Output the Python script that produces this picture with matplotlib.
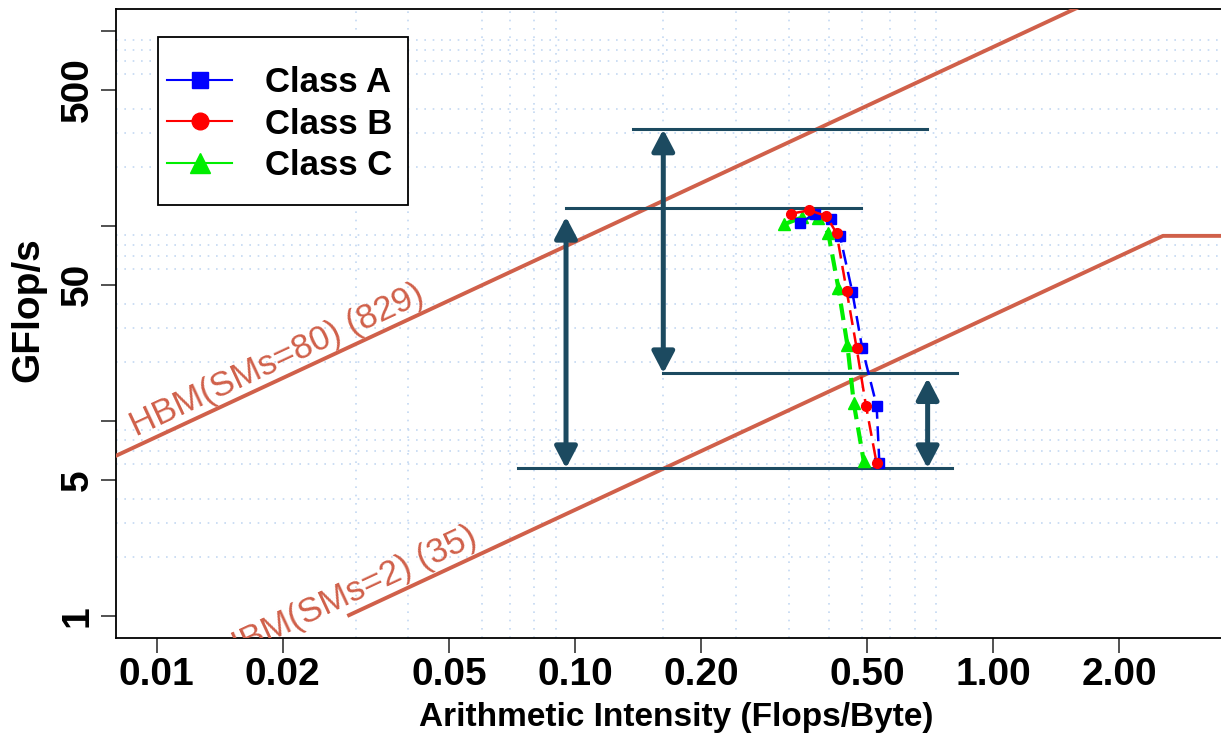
import matplotlib
matplotlib.use("Agg")
import matplotlib.pyplot as plt
from matplotlib.lines import Line2D
from matplotlib.patches import Rectangle
import numpy as np

plt.rcParams['font.family'] = ['Liberation Sans', 'DejaVu Sans']

# measured points (arithmetic intensity, GFlop/s)
ai_a = [0.345, 0.375, 0.409, 0.430, 0.460, 0.486, 0.526, 0.534]
gf_a = [104.0, 115.2, 108.6, 88.9, 46.0, 23.6, 12.0, 6.07]
ai_b = [0.328, 0.363, 0.399, 0.422, 0.446, 0.471, 0.496, 0.526]
gf_b = [115.6, 120.4, 112.5, 91.7, 46.6, 23.8, 12.0, 6.07]
ai_c = [0.316, 0.349, 0.381, 0.403, 0.426, 0.448, 0.464, 0.490]
gf_c = [102.0, 110.8, 109.5, 92.4, 48.3, 24.4, 12.3, 6.23]

# rooflines
roof_names = ["HBM(SMs=80) (829)", "HBM(SMs=2) (35)"]
roof_bw = [829, 35]
roof_peak = [3560, 89]

# reference levels (y, x start, x end)
hl_y = [313, 123.3, 17.56, 5.72]
hl_x0 = [0.138, 0.0952, 0.162, 0.0731]
hl_x1 = [0.694, 0.484, 0.817, 0.795]

# double arrows (x, y top, y bottom)
arr_x = [0.1626, 0.0952, 0.6965]
arr_top = [313, 111.6, 16.6]
arr_bot = [17.56, 5.72, 5.72]

xticks = [0.01, 0.02, 0.05, 0.10, 0.20, 0.50, 1.00, 2.00]
yticks = [1, 5, 10, 50, 100, 500, 1000]
ylabels = ["1", "5", "", "50", "", "500", ""]
xgrid = [0.01, 0.02, 0.03, 0.04, 0.05, 0.06, 0.07, 0.08, 0.09,
         0.162, 0.243, 0.324, 0.405, 0.486, 0.567, 0.648, 0.729]
ygrid = [m * 10.0 ** e for e in range(0, 4) for m in range(1, 10)]

roof_col = '#d0604a'
dark = '#1c4a60'
grid_col = '#c4d8f2'

fig = plt.figure(figsize=(12.21, 7.35), dpi=100)
ax = fig.add_axes([116 / 1221, 97 / 735, 1105 / 1221, 629 / 735])
ax.set_xscale('log')
ax.set_yscale('log')

ax.set_xticks(xgrid, minor=True)
ax.set_yticks(ygrid, minor=True)
ax.tick_params(which='minor', length=0)
ax.grid(which='minor', color=grid_col, linestyle=(0, (1, 4)), linewidth=1.2)
ax.grid(which='major', visible=False)
ax.set_axisbelow(True)

ax.set_xticks(xticks)
ax.set_xticklabels(["%.2f" % v for v in xticks])
ax.set_yticks(yticks)
ax.set_yticklabels(ylabels, rotation=90, va='center')
ax.tick_params(axis='both', which='major', direction='out', length=11, width=1.2,
               color='#333333', labelsize=28)
ax.tick_params(axis='x', pad=3)
ax.tick_params(axis='y', pad=3.5)
for lab in ax.get_xticklabels() + ax.get_yticklabels():
    lab.set_fontweight('bold')

for s in ['left', 'bottom', 'top']:
    ax.spines[s].set_linewidth(1.3)
ax.spines['right'].set_visible(False)

# rooflines
for bw, pk in zip(roof_bw, roof_peak):
    xs = [1.0 / bw, pk / bw, 10.0]
    ys = [1.0, pk, pk]
    ax.plot(xs, ys, color=roof_col, lw=2.8, solid_capstyle='butt', zorder=3)

ax.text(0.00894, 8.28, roof_names[0], color=roof_col, fontsize=25, rotation=25,
        rotation_mode='anchor', ha='left', va='baseline', clip_on=True, zorder=3)
ax.text(0.0590, 2.34, roof_names[1], color=roof_col, fontsize=25, rotation=25,
        rotation_mode='anchor', ha='right', va='baseline', clip_on=True, zorder=3)

# reference lines and arrows
for y, x0, x1 in zip(hl_y, hl_x0, hl_x1):
    ax.plot([x0, x1], [y, y], color=dark, lw=2.2, zorder=4)
for x, yt, yb in zip(arr_x, arr_top, arr_bot):
    ax.annotate('', xy=(x, yt), xytext=(x, yb),
                arrowprops=dict(arrowstyle='<|-|>,head_length=0.65,head_width=0.34',
                                color=dark, lw=3.6, mutation_scale=20,
                                shrinkA=0, shrinkB=0), zorder=4)

# data series
ax.plot(ai_c, gf_c, color='#00ee00', lw=3.0, ls=(0, (4, 2)), marker='^',
        ms=8, mec='#00ee00', zorder=5)
ax.plot(ai_b, gf_b, color='red', lw=1.8, ls=(0, (6, 3)), marker='o',
        ms=7, zorder=6)
ax.plot(ai_a, gf_a, color='blue', lw=1.8, ls=(0, (6, 3)), marker='s',
        ms=7, zorder=5)

ax.set_xlim(0.0080, 3.50)
ax.set_ylim(0.771, 1297)

# legend box drawn separately so that its padding matches
ax.add_patch(Rectangle((0.0380, 0.6884), 0.2263, 0.2671, transform=ax.transAxes,
                       facecolor='white', edgecolor='black', lw=1.3, zorder=7))
handles = [
    Line2D([0], [0], color='blue', lw=1.5, marker='s', ms=12, label='Class A'),
    Line2D([0], [0], color='red', lw=1.5, marker='o', ms=12, label='Class B'),
    Line2D([0], [0], color='#00ee00', lw=1.5, marker='^', ms=14, label='Class C'),
]
leg = ax.legend(handles=handles, loc='upper left', bbox_to_anchor=(0.0462, 0.909),
                prop={'weight': 'bold', 'size': 25}, frameon=False, borderpad=0,
                handlelength=1.87, handletextpad=0.95, labelspacing=0.24,
                borderaxespad=0)
leg.set_zorder(8)

ax.set_xlabel("Arithmetic Intensity (Flops/Byte)", fontsize=24, fontweight='bold',
              va='center')
ax.xaxis.set_label_coords(0.5068, -0.1256)
ax.set_ylabel("GFlop/s", fontsize=28, fontweight='bold', va='center')
ax.yaxis.set_label_coords(-0.0796, 0.5215)

fig.savefig("out.png", dpi=100)
